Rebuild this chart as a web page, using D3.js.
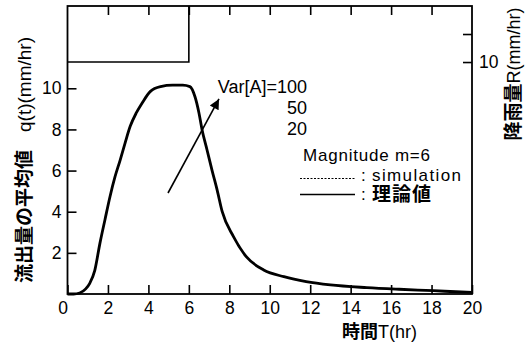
<!DOCTYPE html>
<html><head><meta charset="utf-8">
<script src="https://cdn.jsdelivr.net/npm/d3@7"></script>
<style>
body{margin:0;background:#fff;}
svg{display:block;font-family:"Liberation Sans",Arial,"Noto Sans CJK JP",sans-serif;}
.jp{font-family:"Noto Sans CJK JP",sans-serif;font-weight:bold;}
</style></head>
<body>
<script>
// ---- data ----
const timeHr = [0, 0.3, 0.6, 0.9, 1.1, 1.35, 1.6, 1.85, 2.1, 2.35, 2.6, 2.85, 3.1, 3.4, 3.7, 4.1, 4.6, 5.2, 5.7, 6.05, 6.3, 6.5, 6.65, 6.9, 7.15, 7.4, 7.65, 8.2, 8.85, 9.7, 10.7, 11.8, 13, 14.8, 16.4, 18.1, 19.2, 20];
const qMean  = [0, 0, 0.05, 0.25, 0.52, 1.15, 2.45, 3.6, 4.73, 5.7, 6.5, 7.35, 8.15, 8.8, 9.3, 9.85, 10.08, 10.15, 10.15, 10.08, 9.6, 8.8, 8.0, 7.0, 6.0, 5.05, 4.0, 2.8, 1.8, 1.17, 0.84, 0.6, 0.44, 0.31, 0.23, 0.16, 0.11, 0.08];
const rainTime = [0, 6, 6];
const rainR    = [10, 10, 0];
const xTicks = [0, 2, 4, 6, 8, 10, 12, 14, 16, 18, 20];
const yTicks = [2, 4, 6, 8, 10];
const rTicksMajor = [10];
const rTicksMinor = [5];
const varLabels = ["Var[A]=100", "50", "20"];
const varLabelQ = [9.77, 8.75, 7.73];
const arrowFrom = [4.97, 4.91];
const arrowTo = [7.49, 9.48];

const W = 528, H = 346;
const L = 67.5, R = 472, T = 6, B = 294;
const svg = d3.select("body").append("svg").attr("width", W).attr("height", H);

const x = d3.scaleLinear().domain([0, 20]).range([L, R]);
const y = d3.scaleLinear().domain([0, 14]).range([B, T]);
const yr = d3.scaleLinear().domain([0, 51.4]).range([T, B]);

const defs = svg.append("defs");
defs.append("marker").attr("id", "ah").attr("viewBox", "0 0 10 10")
  .attr("refX", 10).attr("refY", 5).attr("markerWidth", 16).attr("markerHeight", 10)
  .attr("markerUnits", "userSpaceOnUse").attr("orient", "auto")
  .append("path").attr("d", "M0,0 L10,5 L0,10 Z").attr("fill", "#000");

// axes (ticks inward)
const tk = 9;
svg.append("g").attr("transform", `translate(0,${B})`)
  .call(d3.axisBottom(x).tickValues(xTicks).tickSizeInner(-tk).tickSizeOuter(0).tickPadding(8))
  .call(g => g.select(".domain").remove())
  .call(g => g.selectAll("text").attr("font-size", 17.5).attr("dy", "0.71em").attr("dx", (d) => d === 0 ? -5 : 0));
svg.append("g").attr("transform", `translate(0,${T})`)
  .call(d3.axisTop(x).tickValues(xTicks.slice(1, -1)).tickSizeInner(-tk).tickSizeOuter(0).tickFormat(""))
  .call(g => g.select(".domain").remove());
svg.append("g").attr("transform", `translate(${L},0)`)
  .call(d3.axisLeft(y).tickValues(yTicks).tickSizeInner(-tk).tickSizeOuter(0).tickPadding(6))
  .call(g => g.select(".domain").remove())
  .call(g => g.selectAll("text").attr("font-size", 17.5));
svg.append("g").attr("transform", `translate(${R},0)`)
  .call(d3.axisRight(yr).tickValues(rTicksMajor).tickSizeInner(-tk).tickSizeOuter(0).tickPadding(7))
  .call(g => g.select(".domain").remove())
  .call(g => g.selectAll("text").attr("font-size", 17.5));
svg.append("g").attr("transform", `translate(${R},0)`)
  .call(d3.axisRight(yr).tickValues(rTicksMinor).tickSizeInner(-tk).tickSizeOuter(0).tickFormat(""))
  .call(g => g.select(".domain").remove());
svg.selectAll(".tick line").attr("stroke", "#000").attr("stroke-width", 1.6);

svg.append("rect").attr("x", L).attr("y", T).attr("width", R - L).attr("height", B - T)
  .attr("fill", "none").attr("stroke", "#000").attr("stroke-width", 1.8);

// rainfall hyetograph
svg.append("path").datum(rainTime.map((t, i) => [t, rainR[i]]))
  .attr("d", d3.line().x(d => x(d[0])).y(d => yr(d[1])))
  .attr("fill", "none").attr("stroke", "#000").attr("stroke-width", 1.6);

// mean runoff curve
svg.append("path").datum(timeHr.map((t, i) => [t, qMean[i]]))
  .attr("d", d3.line().x(d => x(d[0])).y(d => y(d[1])).curve(d3.curveMonotoneX))
  .attr("fill", "none").attr("stroke", "#000").attr("stroke-width", 2.8);

// arrow
svg.append("line").attr("x1", x(arrowFrom[0])).attr("y1", y(arrowFrom[1]))
  .attr("x2", x(arrowTo[0])).attr("y2", y(arrowTo[1]))
  .attr("stroke", "#000").attr("stroke-width", 1.6).attr("marker-end", "url(#ah)");

// Var labels
svg.selectAll(".var").data(varLabels).join("text")
  .attr("x", x(11.84)).attr("y", (d, i) => y(varLabelQ[i]))
  .attr("text-anchor", "end").attr("font-size", 18).text(d => d);

// legend
const lg = svg.append("g");
lg.append("text").attr("x", 303).attr("y", 161).attr("font-size", 17).attr("textLength", 127).text("Magnitude m=6");
lg.append("line").attr("x1", 300).attr("x2", 355).attr("y1", 178.5).attr("y2", 178.5)
  .attr("stroke", "#000").attr("stroke-width", 1).attr("stroke-dasharray", "2,1.5");
lg.append("text").attr("x", 361).attr("y", 181).attr("font-size", 17).text(":");
lg.append("text").attr("x", 372).attr("y", 181).attr("font-size", 17).attr("textLength", 89).text("simulation");
lg.append("line").attr("x1", 300).attr("x2", 355).attr("y1", 194.5).attr("y2", 194.5)
  .attr("stroke", "#000").attr("stroke-width", 1.3);
lg.append("text").attr("x", 361).attr("y", 200).attr("font-size", 17).text(":");
lg.append("text").attr("class", "jp").attr("x", 372).attr("y", 201).attr("font-size", 19).attr("letter-spacing", 1).text("理論値");

// axis titles
const yt = svg.append("text").attr("transform", "translate(31,160) rotate(-90)")
  .attr("text-anchor", "middle").attr("font-size", 19);
yt.append("tspan").attr("class", "jp").text("流出量の平均値");
yt.append("tspan").attr("dx", 18).text("q(t)(mm/hr)");

const rt = svg.append("text").attr("transform", "translate(520,74) rotate(-90)")
  .attr("text-anchor", "middle").attr("font-size", 18);
rt.append("tspan").attr("class", "jp").attr("font-size", 19).text("降雨量");
rt.append("tspan").text("R(mm/hr)");

const xt = svg.append("text").attr("x", 342).attr("y", 338).attr("font-size", 18);
xt.append("tspan").attr("class", "jp").attr("font-size", 18).text("時間");
xt.append("tspan").text("T(hr)");
</script>
</body></html>
